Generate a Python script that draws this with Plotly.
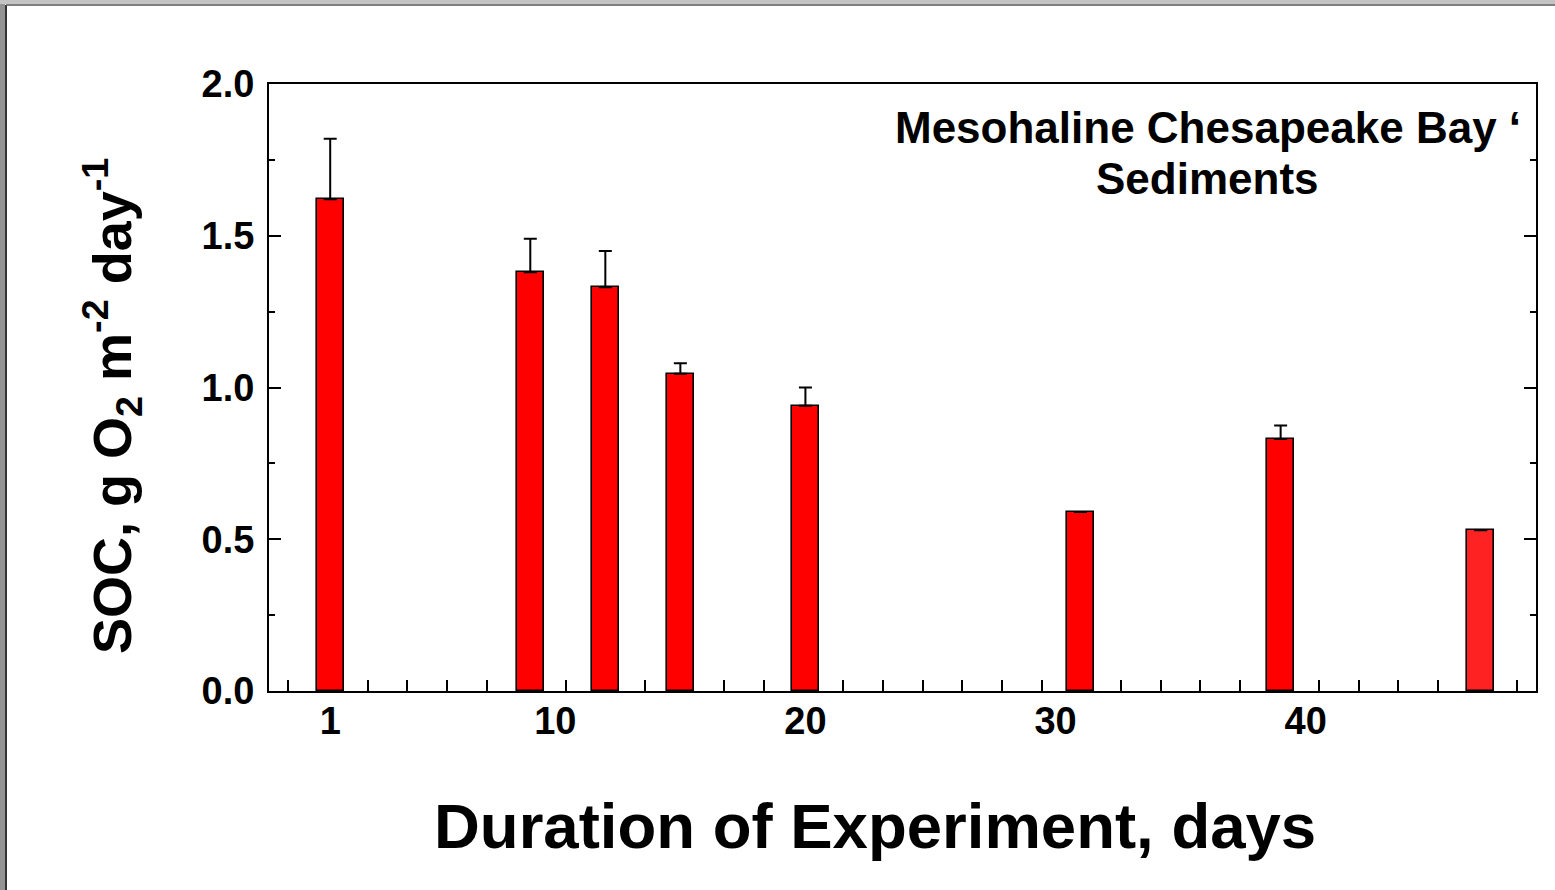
import plotly.graph_objects as go

# Sediment oxygen consumption over the course of the incubation
days = [1, 9, 12, 15, 20, 31, 39, 47]
soc = [1.62, 1.38, 1.33, 1.045, 0.94, 0.59, 0.83, 0.53]
soc_err = [0.20, 0.11, 0.12, 0.035, 0.06, 0.0, 0.045, 0.0]
bar_colors = ["#FF0000"] * 7 + ["#FF2222"]

x_tick_vals = [1, 10, 20, 30, 40]
x_tick_text = ["1", "10", "20", "30", "40"]
y_tick_vals = [0.0, 0.5, 1.0, 1.5, 2.0]
y_tick_text = ["0.0", "0.5", "1.0", "1.5", "2.0"]

W, H = 1555, 890
L, R, T, B = 269, 1536, 84, 691  # plot-area edges in pixels


def px(xp):
    return (xp - L) / (R - L)


def py(yp):
    return (B - yp) / (B - T)


FONT = "Liberation Sans, Arial, Helvetica, sans-serif"

fig = go.Figure()
fig.add_trace(go.Bar(
    x=days,
    y=soc,
    width=1.08,
    marker=dict(color=bar_colors, line=dict(color="black", width=1.6)),
    error_y=dict(type="data", symmetric=False, array=soc_err,
                 arrayminus=[0] * len(soc), color="black",
                 thickness=2, width=6.5),
    showlegend=False,
))

fig.update_layout(
    width=W, height=H,
    margin=dict(l=L, r=W - R, t=T, b=H - B, pad=0),
    paper_bgcolor="white",
    plot_bgcolor="white",
    font=dict(family=FONT, color="black"),
    bargap=0,
)

fig.update_xaxes(
    range=[-1.447, 49.21],
    tickmode="array", tickvals=x_tick_vals, ticktext=x_tick_text,
    ticks="", ticklabelstandoff=-5,
    tickfont=dict(size=38, weight="bold", family=FONT),
    showline=True, linecolor="black", linewidth=2, mirror=True,
    showgrid=False, zeroline=False, layer="below traces",
    minor=dict(tickmode="linear", tick0=0.912, dtick=1.585, ticks="inside",
               ticklen=11, tickwidth=2, tickcolor="black", showgrid=False),
)

fig.update_yaxes(
    range=[0, 2.0],
    tickmode="array", tickvals=y_tick_vals, ticktext=y_tick_text,
    ticks="inside", ticklen=12, tickwidth=2, tickcolor="black",
    ticklabelstandoff=5,
    tickfont=dict(size=38, weight="bold", family=FONT),
    showline=True, linecolor="black", linewidth=2, mirror="allticks",
    showgrid=False, zeroline=False,
    minor=dict(tickmode="linear", tick0=0, dtick=0.25, ticks="inside",
               ticklen=6, tickwidth=2, tickcolor="black", showgrid=False),
)

# Axis titles and in-plot label
fig.add_annotation(
    xref="paper", yref="paper", x=px(112), y=py(406),
    text="SOC, g O<sub>2</sub> m<sup>-2</sup> day<sup>-1</sup>",
    textangle=-90, showarrow=False, xanchor="center", yanchor="middle",
    font=dict(size=54, weight="bold", family=FONT, color="black"),
)
fig.add_annotation(
    xref="paper", yref="paper", x=px(875), y=py(826),
    text="Duration of Experiment, days",
    showarrow=False, xanchor="center", yanchor="middle",
    font=dict(size=63.5, weight="bold", family=FONT, color="black"),
)
fig.add_annotation(
    xref="paper", yref="paper", x=px(1208), y=py(128),
    text="Mesohaline Chesapeake Bay \u2018",
    showarrow=False, xanchor="center", yanchor="middle",
    font=dict(size=44, weight="bold", family=FONT, color="black"),
)
fig.add_annotation(
    xref="paper", yref="paper", x=px(1207), y=py(178),
    text="Sediments",
    showarrow=False, xanchor="center", yanchor="middle",
    font=dict(size=44, weight="bold", family=FONT, color="black"),
)

# Slide frame along the left and top edges
fig.add_shape(type="rect", xref="paper", yref="paper",
              x0=px(0), x1=px(5), y0=py(H), y1=py(0),
              fillcolor="#949494", line=dict(width=0), layer="above")
fig.add_shape(type="rect", xref="paper", yref="paper",
              x0=px(0), x1=px(W), y0=py(4), y1=py(0),
              fillcolor="#c4c4c4", line=dict(width=0), layer="above")
fig.add_shape(type="line", xref="paper", yref="paper",
              x0=px(6), x1=px(6), y0=py(H), y1=py(5),
              line=dict(color="#333333", width=2), layer="above")
fig.add_shape(type="line", xref="paper", yref="paper",
              x0=px(6), x1=px(W), y0=py(5), y1=py(5),
              line=dict(color="#555555", width=1.5), layer="above")

fig.write_html("out.html")
